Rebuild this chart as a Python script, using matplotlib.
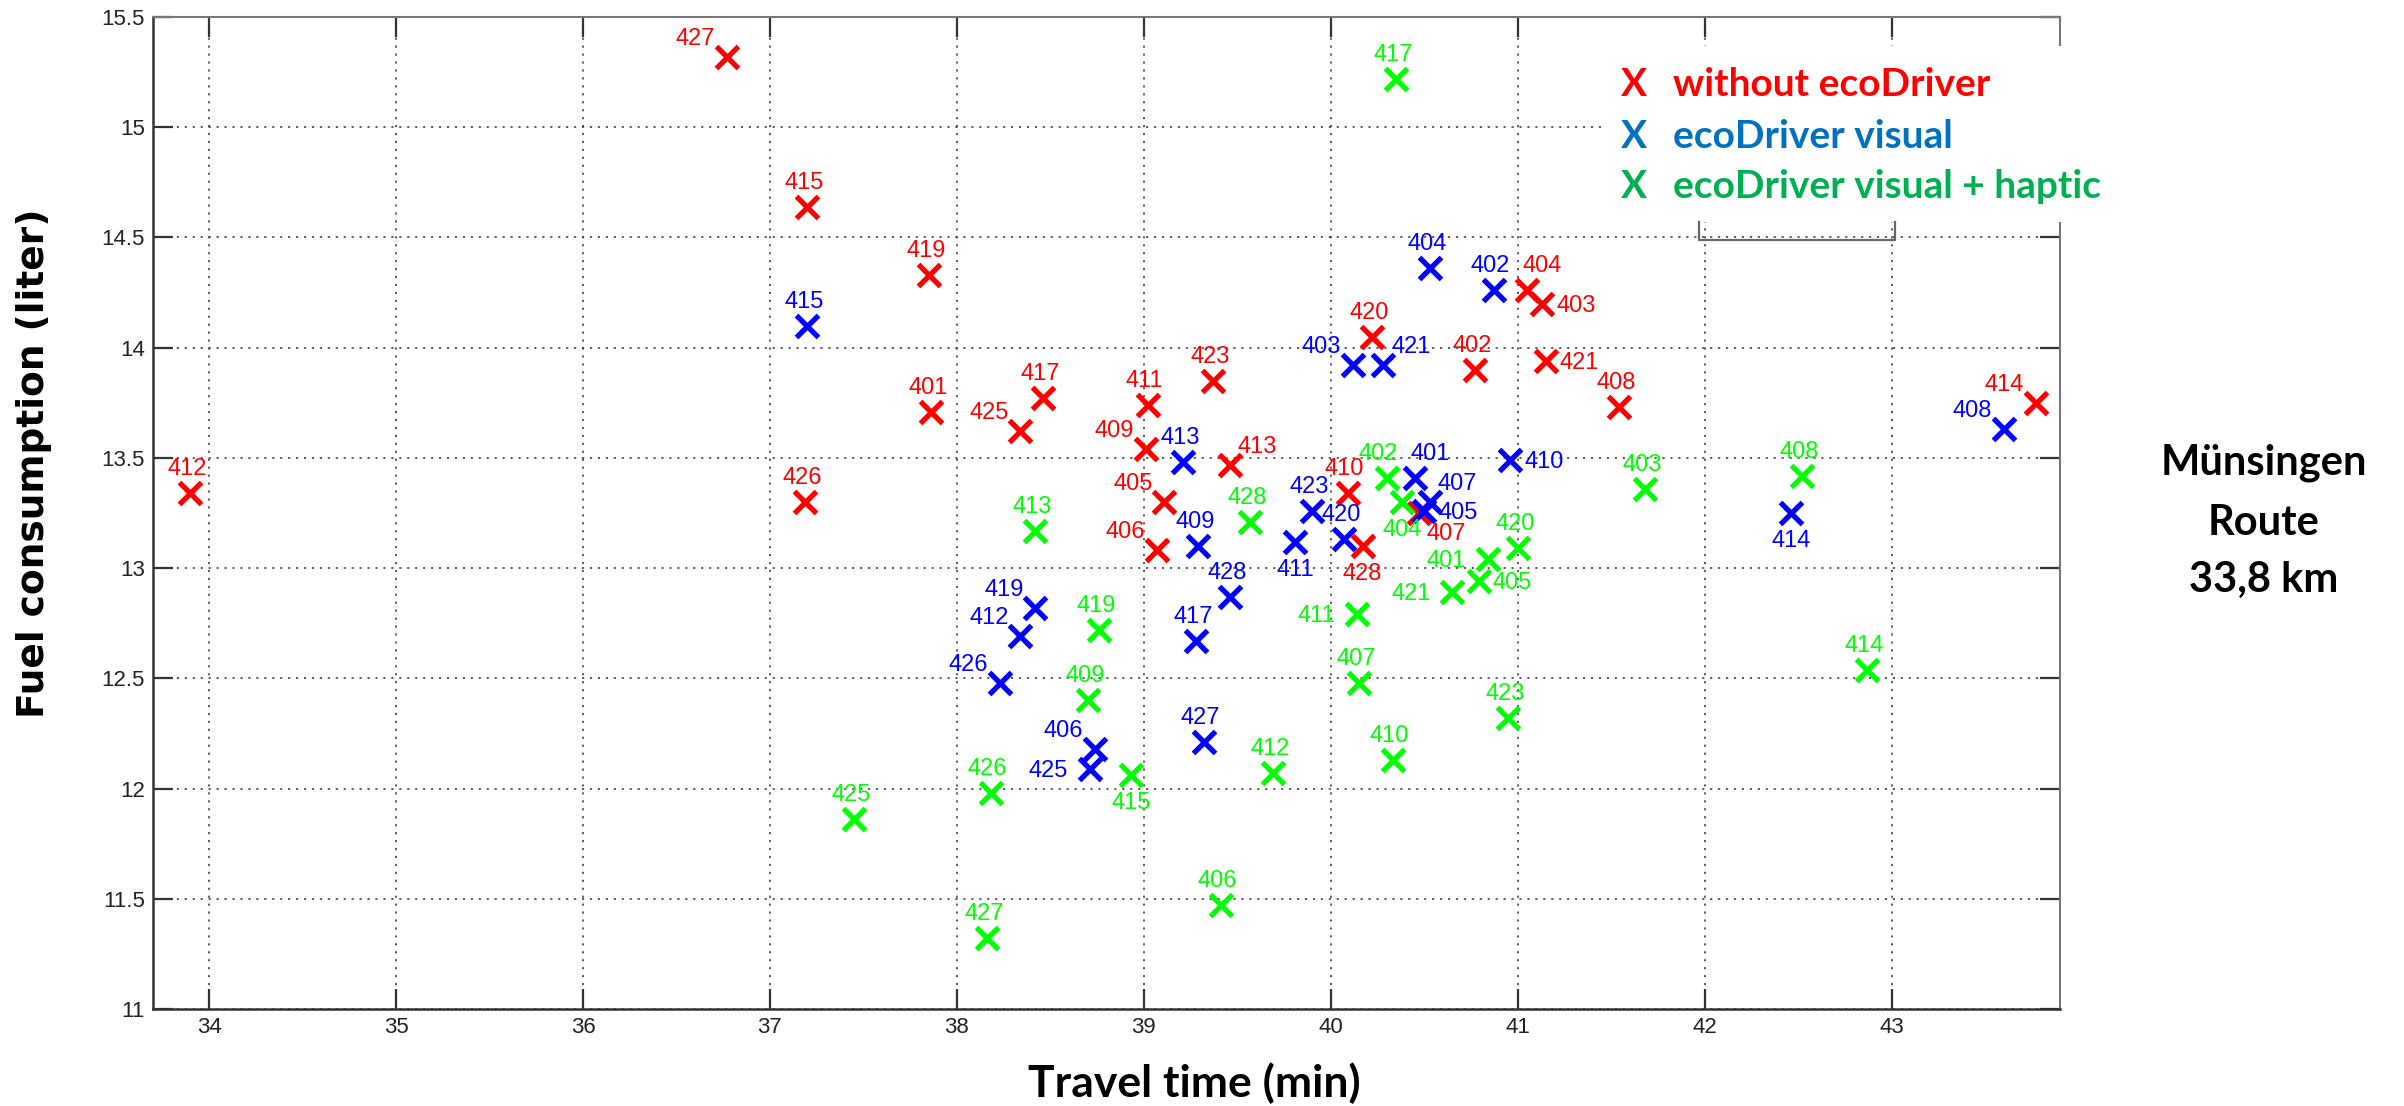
import matplotlib
matplotlib.use('Agg')
import matplotlib.pyplot as plt
import matplotlib.ticker as mticker
from matplotlib.patches import Rectangle
from matplotlib.lines import Line2D


# travel time (min) / fuel consumption (liter) per driver id
red_ids = ['427', '415', '419', '401', '412', '426', '425', '417', '411', '409', '423', '413',
           '405', '406', '420', '402', '404', '403', '421', '408', '414', '410', '407', '428']
red_time = [36.77, 37.20, 37.85, 37.86, 33.90, 37.19, 38.34, 38.46, 39.02, 39.01, 39.37, 39.46,
            39.11, 39.07, 40.22, 40.77, 41.05, 41.13, 41.15, 41.54, 43.77, 40.09, 40.47, 40.17]
red_fuel = [15.32, 14.64, 14.33, 13.71, 13.34, 13.30, 13.62, 13.77, 13.74, 13.54, 13.85, 13.47,
            13.30, 13.08, 14.05, 13.90, 14.26, 14.20, 13.94, 13.73, 13.75, 13.34, 13.25, 13.10]

blue_ids = ['415', '413', '404', '402', '403', '421', '401', '407', '405', '410', '408', '414',
            '423', '420', '411', '409', '428', '417', '419', '412', '426', '406', '425', '427']
blue_time = [37.20, 39.21, 40.53, 40.87, 40.12, 40.28, 40.45, 40.53, 40.50, 40.96, 43.60, 42.46,
             39.90, 40.07, 39.81, 39.29, 39.46, 39.28, 38.42, 38.34, 38.23, 38.74, 38.71, 39.32]
blue_fuel = [14.10, 13.48, 14.36, 14.26, 13.92, 13.92, 13.41, 13.30, 13.26, 13.49, 13.63, 13.25,
             13.26, 13.13, 13.12, 13.10, 12.87, 12.67, 12.82, 12.69, 12.48, 12.18, 12.09, 12.21]

green_ids = ['417', '402', '404', '408', '403', '413', '428', '420', '401', '405', '421', '411',
             '419', '414', '409', '407', '423', '410', '412', '415', '426', '425', '406', '427']
green_time = [40.35, 40.30, 40.38, 42.52, 41.68, 38.42, 39.57, 41.00, 40.84, 40.79, 40.65, 40.14,
              38.76, 42.87, 38.70, 40.15, 40.95, 40.33, 39.69, 38.93, 38.18, 37.45, 39.41, 38.16]
green_fuel = [15.22, 13.41, 13.30, 13.42, 13.36, 13.17, 13.21, 13.09, 13.04, 12.94, 12.89, 12.79,
              12.72, 12.54, 12.40, 12.48, 12.32, 12.13, 12.07, 12.06, 11.98, 11.86, 11.47, 11.32]

legend_labels = ['without ecoDriver', 'ecoDriver visual', 'ecoDriver visual + haptic']
route_text = ['Münsingen', 'Route', '33,8 km']

# where the id label sits relative to its marker (default: above)
red_pos = {'427': 'nw', '425': 'nw', '409': 'nw', '413': 'ne', '405': 'nw', '406': 'nw',
           '404': 'nr', '403': 'e', '421': 'e', '414': 'nw', '407': 'se', '428': 's'}
blue_pos = {'403': 'nw', '421': 'ne', '401': 'nr', '407': 'ne', '405': 'e', '410': 'e',
            '408': 'nw', '414': 's', '411': 's', '419': 'nw', '412': 'nw', '426': 'nw',
            '406': 'nw', '425': 'w'}
green_pos = {'402': 'nl', '404': 's', '401': 'w', '405': 'e', '421': 'w', '411': 'w',
             '415': 's'}

# offsets in pixels -> (dx, dy, ha, va)
offsets = {
    'n': (-3, 13, 'center', 'bottom'),
    'nl': (-9, 13, 'center', 'bottom'),
    'nr': (15, 13, 'center', 'bottom'),
    'nw': (-12, 7, 'right', 'bottom'),
    'ne': (8, 7, 'left', 'bottom'),
    'e': (14, -2, 'left', 'center'),
    'w': (-22, -2, 'right', 'center'),
    's': (0, -17, 'center', 'top'),
    'se': (8, -10, 'left', 'top'),
}

W, H = 2404, 1106
DPI = 100
PT = 72.0 / DPI

fig = plt.figure(figsize=(W / DPI, H / DPI), dpi=DPI)
ax = fig.add_axes([153 / W, 1 - 1009 / H, (2060 - 153) / W, (1009 - 17) / H])

label_font = ['Liberation Sans', 'DejaVu Sans']
tick_font = ['Liberation Sans Narrow', 'Liberation Sans', 'DejaVu Sans']


def draw_series(times, fuels, ids, color, pos):
	ax.plot(times, fuels, linestyle='None', marker='x', markersize=16,
	        markeredgewidth=3.8, color=color, zorder=3)
	for t, f, lab in zip(times, fuels, ids):
		dx, dy, ha, va = offsets[pos.get(lab, 'n')]
		ax.annotate(lab, (t, f), xytext=(dx * PT, dy * PT), textcoords='offset points',
		            ha=ha, va=va, color=color, fontsize=17, family=label_font, zorder=4)


draw_series(red_time, red_fuel, red_ids, '#ff0000', red_pos)
draw_series(green_time, green_fuel, green_ids, '#00ff00', green_pos)
draw_series(blue_time, blue_fuel, blue_ids, '#0000ff', blue_pos)

ax.set_xlim(33.7, 43.9)
ax.set_ylim(11, 15.5)
ax.set_xticks(range(34, 44))
ax.set_yticks([11 + 0.5 * i for i in range(10)])
ax.xaxis.set_major_formatter(mticker.FuncFormatter(lambda v, p: '%g' % v))
ax.yaxis.set_major_formatter(mticker.FuncFormatter(lambda v, p: '%g' % v))
ax.tick_params(direction='in', length=20 * PT, width=1.6, top=True, right=True,
               colors='#333333', labelsize=16, pad=8 * PT)
for lab in ax.get_xticklabels() + ax.get_yticklabels():
	lab.set_family(tick_font)
	lab.set_color('#222222')

ax.grid(True, linestyle=(0, (1.2, 3.2)), color='#333333', linewidth=1.3, alpha=0.85)
for side in ['top', 'right']:
	ax.spines[side].set_color('#777777')
	ax.spines[side].set_linewidth(1.5)
for side in ['bottom', 'left']:
	ax.spines[side].set_color('#333333')
	ax.spines[side].set_linewidth(1.8)

# white block pasted over the upper right corner, with the old legend box edge below it
fig.add_artist(Rectangle((1603 / W, 1 - 222 / H), (2064 - 1603) / W, (222 - 46) / H,
                         transform=fig.transFigure, facecolor='white', edgecolor='none',
                         zorder=1))
box_x = [1699 / W, 1699 / W, 1895 / W, 1895 / W]
box_y = [1 - 222 / H, 1 - 240 / H, 1 - 240 / H, 1 - 222 / H]
fig.add_artist(Line2D(box_x, box_y, transform=fig.transFigure, color='#666666',
                      linewidth=1.6, zorder=2))

legend_colors = ['#ff0000', '#0070c0', '#00b050']
row_y = [84, 136, 187]
for lab, col, y in zip(legend_labels, legend_colors, row_y):
	fig.text(1621 / W, 1 - y / H, 'X', color=col, fontsize=28, fontweight='bold',
	         family='Lato', va='center', ha='left', zorder=3)
	fig.text(1673 / W, 1 - y / H, lab, color=col, fontsize=28, fontweight='bold',
	         family='Lato', va='center', ha='left', zorder=3)

for txt, y in zip(route_text, [463, 523, 580]):
	fig.text(2264 / W, 1 - y / H, txt, color='black', fontsize=30, fontweight='bold',
	         family='Lato', va='center', ha='center')

fig.text(34 / W, 1 - 463 / H, 'Fuel consumption (liter)', rotation=90, fontsize=27,
         fontweight='bold', family='DejaVu Sans', va='center', ha='center')
fig.text(1194 / W, 1 - 1083 / H, 'Travel time (min)', fontsize=32, fontweight='bold',
         family='Lato', va='center', ha='center')

plt.savefig('out.png', dpi=DPI)
plt.close()
